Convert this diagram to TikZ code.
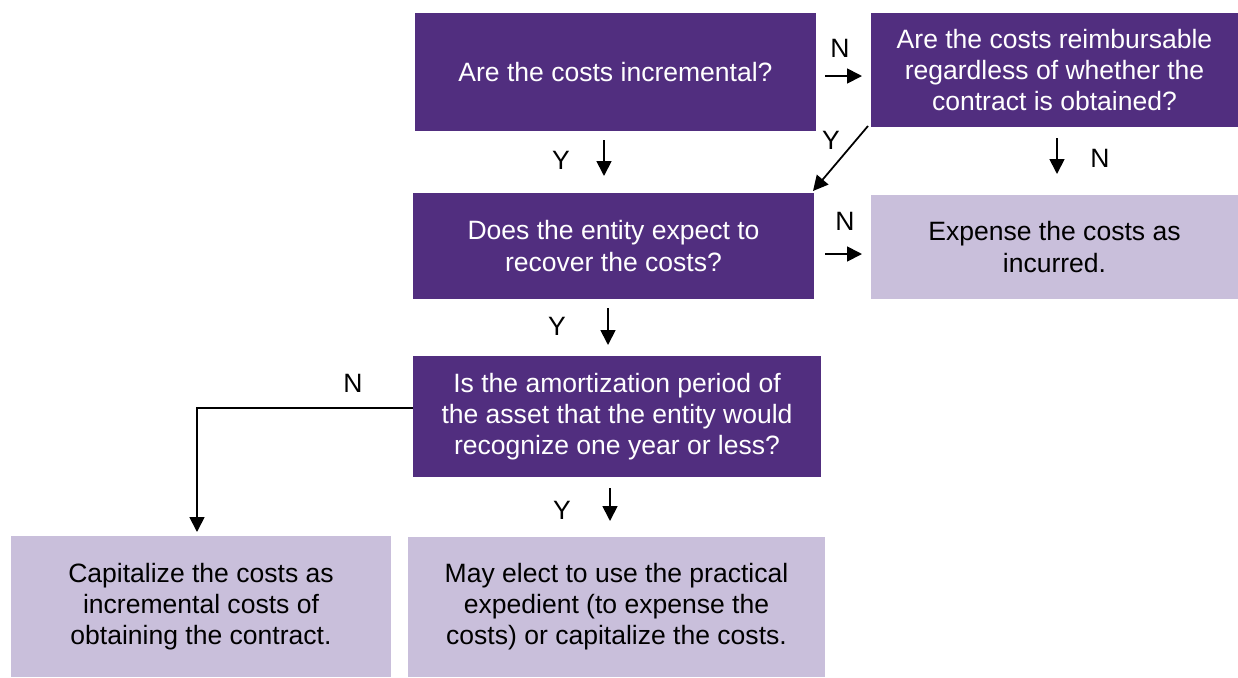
\documentclass[tikz,border=0pt]{standalone}
\usepackage{fontspec}
\setmainfont{Liberation Sans}
\usetikzlibrary{arrows.meta}
\definecolor{qdark}{HTML}{512E7F}
\definecolor{qlight}{HTML}{C9BFDB}
\newcommand{\qfont}{\fontsize{15.1}{17.7}\selectfont}
\begin{document}
\begin{tikzpicture}[x=0.02cm,y=-0.02cm,
    box/.style={inner sep=0pt,align=center,font=\qfont},
    dark/.style={box,fill=qdark,text=white},
    light/.style={box,fill=qlight,text=black},
    lbl/.style={font=\qfont,inner sep=0pt},
    arr/.style={-{Triangle[length=0.3cm,width=0.3cm]},line width=1pt}]
  \useasboundingbox (0,0) rectangle (1238,677);
  % question boxes
  \node[dark,minimum width=8.02cm,minimum height=2.36cm] (incr) at (615.5,72)
    {Are the costs incremental?};
  \node[dark,minimum width=7.34cm,minimum height=2.28cm] (reimb) at (1054.5,70)
    {Are the costs reimbursable\\regardless of whether the\\contract is obtained?};
  \node[dark,minimum width=8.02cm,minimum height=2.12cm] (recov) at (613.5,246)
    {Does the entity expect to\\recover the costs?};
  \node[dark,minimum width=8.16cm,minimum height=2.42cm] (amort) at (617,416.5)
    {Is the amortization period of\\the asset that the entity would\\recognize one year or less?};
  % outcome boxes
  \node[light,minimum width=7.34cm,minimum height=2.08cm] (expense) at (1054.5,247)
    {Expense the costs as\\incurred.};
  \node[light,minimum width=7.6cm,minimum height=2.82cm] (capit) at (201,606.5)
    {Capitalize the costs as\\incremental costs of\\obtaining the contract.};
  \node[light,minimum width=8.34cm,minimum height=2.8cm] (elect) at (616.5,607)
    {May elect to use the practical\\expedient (to expense the\\costs) or capitalize the costs.};
  % arrow ends
  \coordinate (incrN0) at (825,76);   \coordinate (incrN1) at (862,76);
  \coordinate (incrY0) at (604,140);  \coordinate (incrY1) at (604,176);
  \coordinate (reimbY0) at (868,126); \coordinate (reimbY1) at (813,191);
  \coordinate (reimbN0) at (1057,138); \coordinate (reimbN1) at (1057,174);
  \coordinate (recovN0) at (825,254); \coordinate (recovN1) at (862,254);
  \coordinate (recovY0) at (608,308); \coordinate (recovY1) at (608,345);
  \coordinate (amortY0) at (610,488); \coordinate (amortY1) at (610,521);
  \coordinate (amortN0) at (413,408); \coordinate (amortN1) at (197,532);
  \draw[arr] (incrN0) -- (incrN1);
  \draw[arr] (incrY0) -- (incrY1);
  \draw[arr] (reimbY0) -- (reimbY1);
  \draw[arr] (reimbN0) -- (reimbN1);
  \draw[arr] (recovN0) -- (recovN1);
  \draw[arr] (recovY0) -- (recovY1);
  \draw[arr] (amortY0) -- (amortY1);
  \draw[arr] (amortN0) -| (amortN1);
  % labels
  \node[lbl] (lN1) at (840,48) {N};
  \node[lbl] (lY1) at (561,160) {Y};
  \node[lbl] (lY2) at (831,140) {Y};
  \node[lbl] (lN2) at (1100,158) {N};
  \node[lbl] (lN3) at (845,221) {N};
  \node[lbl] (lY3) at (557,326) {Y};
  \node[lbl] (lY4) at (562,510) {Y};
  \node[lbl] (lN4) at (353,383) {N};
\end{tikzpicture}
\end{document}
